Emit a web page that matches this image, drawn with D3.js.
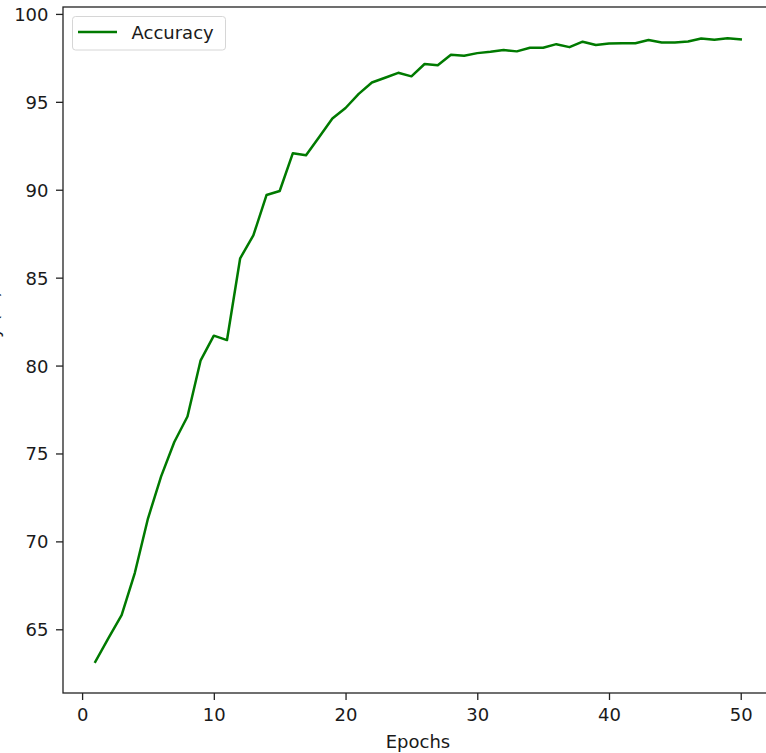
<!DOCTYPE html>
<html>
<head>
<meta charset="utf-8">
<script src="https://cdn.jsdelivr.net/npm/d3@7"></script>
<style>
  html, body { margin: 0; padding: 0; background: #fff; overflow: hidden; }
  svg { display: block; font-family: "DejaVu Sans", sans-serif; }
</style>
</head>
<body>
<svg id="chart" width="766" height="753"></svg>
<script>
const epochs = d3.range(1, 51);
const accuracy = [
  63.15, 64.5, 65.8, 68.2, 71.3, 73.7, 75.65, 77.1, 80.3, 81.7,
  81.45, 86.1, 87.4, 89.7, 89.93, 92.08, 91.96, 93.0, 94.05, 94.65,
  95.45, 96.1, 96.37, 96.65, 96.45, 97.15, 97.08, 97.68, 97.62, 97.77,
  97.85, 97.95, 97.87, 98.08, 98.08, 98.28, 98.11, 98.42, 98.23, 98.32,
  98.33, 98.33, 98.52, 98.38, 98.38, 98.43, 98.6, 98.53, 98.62, 98.55
];
const xTicks = [0, 10, 20, 30, 40, 50];
const yTicks = [65, 70, 75, 80, 85, 90, 95, 100];
const seriesName = "Accuracy";
const xLabel = "Epochs";
const yLabel = "Accuracy (%)";

const svg = d3.select("#chart");
const pL = 63, pR = 773, pT = 7, pB = 693;
const fs = 18;

const xPad = (d3.max(epochs) - d3.min(epochs)) * 0.05;
const x = d3.scaleLinear()
  .domain([d3.min(epochs) - xPad, d3.max(epochs) + xPad])
  .range([pL, pR]);
const yMin = d3.min(accuracy), yMax = d3.max(accuracy);
const yPad = (yMax - yMin) * 0.05;
const y = d3.scaleLinear()
  .domain([yMin - yPad, yMax + yPad])
  .range([pB, pT]);

// line
const line = d3.line().x((d, i) => x(epochs[i])).y(d => y(d));
svg.append("path")
  .datum(accuracy)
  .attr("d", line)
  .attr("fill", "none")
  .attr("stroke", "#007a00")
  .attr("stroke-width", 2.5)
  .attr("stroke-linejoin", "round")
  .attr("stroke-linecap", "square");

// axes
const xAxis = d3.axisBottom(x).tickValues(xTicks).tickSize(7).tickPadding(5).tickFormat(d3.format("d"));
const gx = svg.append("g").attr("transform", `translate(0,${pB})`).call(xAxis);
const yAxis = d3.axisLeft(y).tickValues(yTicks).tickSize(7).tickPadding(6).tickFormat(d3.format("d"));
const gy = svg.append("g").attr("transform", `translate(${pL},0)`).call(yAxis);
[gx, gy].forEach(g => {
  g.select(".domain").remove();
  g.selectAll(".tick line").attr("stroke", "#222").attr("stroke-width", 1.3);
  g.selectAll(".tick text").attr("fill", "#1a1a1a")
    .style("font-family", "DejaVu Sans, sans-serif").style("font-size", fs + "px");
});
gx.selectAll(".tick text").attr("dy", null).attr("y", 27.5);
gy.selectAll(".tick text").attr("dy", "0.36em").attr("x", -14.5);

// spines
svg.append("rect")
  .attr("x", pL).attr("y", pT)
  .attr("width", pR - pL).attr("height", pB - pT)
  .attr("fill", "none").attr("stroke", "#222").attr("stroke-width", 1.3);

// axis labels
svg.append("text")
  .attr("x", (pL + pR) / 2).attr("y", 748)
  .attr("text-anchor", "middle")
  .attr("fill", "#1a1a1a")
  .style("font-size", fs + "px")
  .text(xLabel);
svg.append("text")
  .attr("transform", `translate(-1,${(pT + pB) / 2}) rotate(-90)`)
  .attr("text-anchor", "middle")
  .attr("fill", "#1a1a1a")
  .style("font-size", fs + "px")
  .text(yLabel);

// legend
const lg = svg.append("g");
lg.append("rect")
  .attr("x", 72.5).attr("y", 16.5).attr("width", 153).attr("height", 33.5)
  .attr("rx", 3).attr("fill", "#fff").attr("fill-opacity", 0.8)
  .attr("stroke", "#d6d6d6").attr("stroke-width", 1);
lg.append("line")
  .attr("x1", 78).attr("x2", 117).attr("y1", 32).attr("y2", 32)
  .attr("stroke", "#007a00").attr("stroke-width", 2.5);
lg.append("text")
  .attr("x", 131.5).attr("y", 39)
  .attr("fill", "#1a1a1a")
  .style("font-size", fs + "px")
  .text(seriesName);
</script>
</body>
</html>
